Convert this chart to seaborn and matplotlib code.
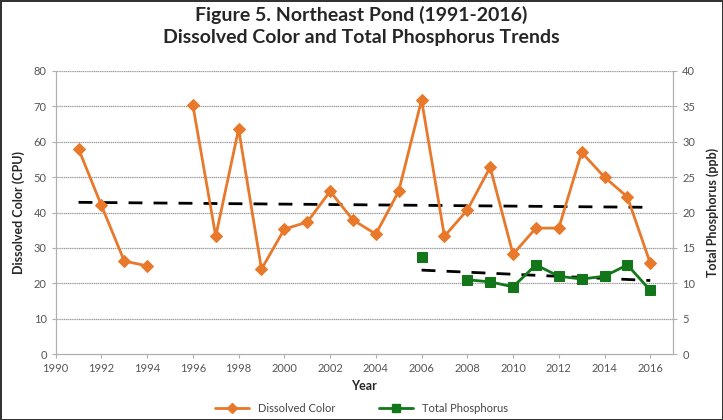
import numpy as np
import pandas as pd
import seaborn as sns
import matplotlib.pyplot as plt
from matplotlib.lines import Line2D

years = list(range(1991, 2017))
dissolved_color = [58, 42, 26.3, 24.9, np.nan, 70.3, 33.3, 63.6, 24, 35.3,
                   37.3, 46, 37.9, 33.9, 46, 71.8, 33.3, 40.7, 52.8, 28.2,
                   35.6, 35.6, 57, 50, 44.4, 25.7]
tp_years = list(range(2006, 2017))
total_phosphorus = [13.7, np.nan, 10.5, 10.2, 9.5, 12.6, 11, 10.6, 11, 12.6, 9.0]

orange = '#E8782A'
green = '#13761A'

df_c = pd.DataFrame({'year': years, 'value': dissolved_color})
df_c['seg'] = df_c['value'].isna().cumsum()
df_c = df_c.dropna()
df_p = pd.DataFrame({'year': tp_years, 'value': total_phosphorus})
df_p['seg'] = df_p['value'].isna().cumsum()
df_p = df_p.dropna()

sns.set_style('white')
plt.rcParams['font.family'] = ['Lato', 'DejaVu Sans']

fig = plt.figure(figsize=(7.23, 4.2), dpi=100, edgecolor='#333333', linewidth=2)
ax = fig.add_axes([0.077, 0.157, 0.854, 0.674])
ax2 = ax.twinx()

for y in range(10, 81, 10):
    ax.axhline(y, color='#9a9a9a', lw=0.9, ls=(0, (1, 0.5)), zorder=0)

# trend lines
c_fit = np.polyfit(df_c['year'], df_c['value'], 1)
trend_c = pd.DataFrame({'year': [1991, 2016]})
trend_c['value'] = np.polyval(c_fit, trend_c['year'])
sns.lineplot(data=trend_c, x='year', y='value', ax=ax, color='black', lw=2,
             dashes=False, zorder=3)
ax.lines[-1].set_dashes([5, 4])

sns.lineplot(data=df_c, x='year', y='value', units='seg', estimator=None, ax=ax,
             color=orange, lw=2, marker='D', markersize=6, markeredgecolor=orange,
             zorder=4)

p_fit = np.polyfit(df_p['year'], df_p['value'], 1)
trend_p = pd.DataFrame({'year': [2006, 2016]})
trend_p['value'] = np.polyval(p_fit, trend_p['year'])
sns.lineplot(data=trend_p, x='year', y='value', ax=ax2, color='black', lw=2, zorder=3)
ax2.lines[-1].set_dashes([5, 4])

sns.lineplot(data=df_p, x='year', y='value', units='seg', estimator=None, ax=ax2,
             color=green, lw=2, marker='s', markersize=7, markeredgecolor=green,
             zorder=4)

ax.set_xlim(1990, 2017)
ax.set_xticks(range(1990, 2017, 2))
ax.set_ylim(0, 80)
ax.set_yticks(range(0, 81, 10))
ax2.set_ylim(0, 40)
ax2.set_yticks(range(0, 41, 5))

for a in (ax, ax2):
    for s in a.spines.values():
        s.set_color('#b0b0b0')
    a.spines['top'].set_visible(False)
    a.tick_params(labelsize=8, colors='#555555', length=3)
ax.tick_params(axis='x', bottom=True, length=3, color='#b0b0b0')
ax.tick_params(axis='y', left=True, length=3, color='#b0b0b0')
ax2.tick_params(axis='y', right=True, length=3, color='#b0b0b0')

ax.set_xlabel('Year', fontsize=9, fontweight='bold', labelpad=4)
ax.set_ylabel('Dissolved Color (CPU)', fontsize=9, fontweight='bold', labelpad=6)
ax2.set_ylabel('Total Phosphorus (ppb)', fontsize=9, fontweight='bold',
               rotation=90, labelpad=8)

fig.suptitle('Figure 5. Northeast Pond (1991-2016)\nDissolved Color and Total Phosphorus Trends',
             fontsize=14, fontweight='bold', y=0.985, linespacing=1.3)

handles = [Line2D([], [], color=orange, lw=2, marker='D', markersize=5),
           Line2D([], [], color=green, lw=2, marker='s', markersize=6)]
fig.legend(handles, ['Dissolved Color', 'Total Phosphorus'], loc='lower center',
           ncol=2, frameon=False, fontsize=8, bbox_to_anchor=(0.5, -0.01),
           handlelength=3, columnspacing=4, labelcolor='#444444')

fig.savefig('out.png', dpi=100, edgecolor=fig.get_edgecolor())
